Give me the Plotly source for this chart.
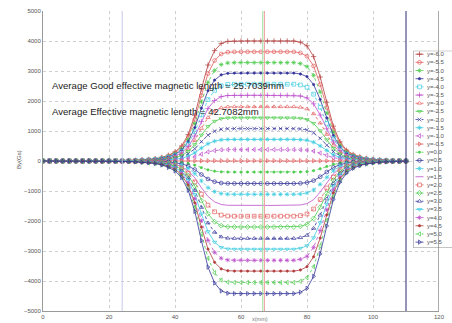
import plotly.graph_objects as go

# ---------------- data ----------------
x_mm = list(range(0, 112, 2))  # 0 .. 110 mm, 2 mm step

# normalised field profile along x (read from the top / bottom curves)
profile = [0.0, 0.0, 0.0, 0.0, 0.0, 0.0, 0.0, 0.0, 0.0, 0.0005,
           0.001, 0.002, 0.003, 0.004, 0.006, 0.009, 0.013, 0.019, 0.03, 0.048,
           0.075, 0.125, 0.22, 0.38, 0.6, 0.8, 0.92, 0.98, 0.997, 1.0,
           1.0, 1.0, 1.0, 1.0, 1.0, 1.0, 1.0, 1.0, 1.0, 0.99,
           0.96, 0.87, 0.7, 0.49, 0.29, 0.16, 0.09, 0.055, 0.035, 0.022,
           0.014, 0.009, 0.006, 0.004, 0.002, 0.001]

labels = ['y=-6.0', 'y=-5.5', 'y=-5.0', 'y=-4.5', 'y=-4.0', 'y=-3.5',
          'y=-3.0', 'y=-2.5', 'y=-2.0', 'y=-1.5', 'y=-1.0', 'y=-0.5',
          'y=0.0', 'y=0.5', 'y=1.0', 'y=1.5', 'y=2.0', 'y=2.5',
          'y=3.0', 'y=3.5', 'y=4.0', 'y=4.5', 'y=5.0', 'y=5.5']

# plateau value of By (Gs) for each curve
plateau = [4000, 3640, 3280, 2930, 2560, 2190, 1810, 1440, 1080, 720, 380, 10,
           -370, -750, -1110, -1480, -1840, -2200, -2580, -2940, -3310, -3670,
           -4050, -4420]

vlines = [24.0, 66.6, 67.1, 110.0]
vline_colors = ['#c9c9ec', '#99dd99', '#f0a0a0', '#2a2a70']

notes = ['Average Good effective magnetic length = 25.7039mm',
         'Average Effective magnetic length = 42.7082mm']

x_ticks = [0, 20, 40, 60, 80, 100, 120]
y_ticks = [-5000, -4000, -3000, -2000, -1000, 0, 1000, 2000, 3000, 4000, 5000]

# ---------------- styles ----------------
DR = '#b23c3c'
R = '#e25c5c'
G = '#4ccc4c'
B = '#34349a'
C = '#3ccce0'
M = '#bc4ccc'
colors = [DR, R, G, B, C, M, R, G, B, C, M, R, G, B, C, M, R, G, B, C, M, DR, G, B]
symbols = ['cross-thin-open', 'circle-open', 'asterisk-open', 'circle', 'square-open',
           'cross-thin-open', 'triangle-up-open', 'triangle-down-open', 'x-thin-open',
           'asterisk-open', 'triangle-left-open', 'triangle-right-open', 'circle',
           'circle-open', 'asterisk-open', None, 'square-open', 'diamond-open',
           'triangle-up-open', 'triangle-down-open', 'asterisk-open', 'circle',
           'triangle-left-open', 'triangle-right-open']
dashes = ['solid', 'solid', 'dot', 'solid', 'dot', 'solid', 'dot', 'solid', 'dot',
          'solid', 'dot', 'solid', 'dot', 'solid', 'dot', 'solid', 'dot', 'solid',
          'dot', 'solid', 'dot', 'solid', 'dot', 'solid']

W, H = 452, 323
FONT = 'Liberation Sans, Arial, sans-serif'


def msize(sym):
    return 2.3 if sym == 'circle' else 3.8


fig = go.Figure()

for i, lab in enumerate(labels):
    by = [plateau[i] * p for p in profile]
    sym = symbols[i]
    fig.add_trace(go.Scatter(
        x=x_mm, y=by, name=lab,
        mode='lines+markers' if sym else 'lines',
        line=dict(color=colors[i], width=0.8, dash=dashes[i]),
        marker=dict(symbol=sym or 'circle', size=msize(sym), color=colors[i],
                    line=dict(width=0.7, color=colors[i])),
        showlegend=False, xaxis='x', yaxis='y'))

# ---------------- hand-made legend (pixel-unit overlay axes) ----------------
LEG_X0, LEG_Y0, LEG_Y1 = 413.3, 50.7, 248.0
leg_first, leg_step = 54.2, 8.17
for i, lab in enumerate(labels):
    yy = leg_first + i * leg_step
    fig.add_trace(go.Scatter(
        x=[415.5, 423.5], y=[yy, yy], mode='lines',
        line=dict(color=colors[i], width=0.8, dash=dashes[i]),
        showlegend=False, hoverinfo='skip', xaxis='x2', yaxis='y2'))
    if symbols[i]:
        fig.add_trace(go.Scatter(
            x=[419.5], y=[yy], mode='markers',
            marker=dict(symbol=symbols[i], size=msize(symbols[i]), color=colors[i],
                        line=dict(width=0.7, color=colors[i])),
            showlegend=False, hoverinfo='skip', xaxis='x2', yaxis='y2'))
    fig.add_annotation(x=425, y=yy, xref='x2', yref='y2', text=lab, showarrow=False,
                       xanchor='left', yanchor='middle',
                       font=dict(size=6, color='#555', family=FONT))

shapes = []
for xv, col in zip(vlines, vline_colors):
    shapes.append(dict(type='line', xref='x', yref='y', x0=xv, x1=xv, y0=-5000, y1=5000,
                       line=dict(color=col, width=1)))
# right axis border
shapes.append(dict(type='line', xref='x', yref='y', x0=120, x1=120, y0=-5000, y1=5000,
                   line=dict(color='#555555', width=1)))
# legend box
shapes.append(dict(type='rect', xref='x2', yref='y2', x0=LEG_X0, x1=470, y0=LEG_Y0, y1=LEG_Y1,
                   fillcolor='white', line=dict(color='#888888', width=1), layer='below'))

for k, txt in enumerate(notes):
    fig.add_annotation(x=50 / W, y=1 - (85.7 if k == 0 else 111.5) / H, xref='paper', yref='paper',
                       text=txt, showarrow=False, xanchor='left', yanchor='middle',
                       font=dict(size=9.6, color='#222222', family=FONT))

fig.add_annotation(x=14 / W, y=1 - 160 / H, xref='paper', yref='paper', text='By(Gs)',
                   textangle=-90, showarrow=False, font=dict(size=6, color='#555', family=FONT))
fig.add_annotation(x=250 / W, y=1 - 319 / H, xref='paper', yref='paper', text='x(mm)',
                   showarrow=False, xanchor='left', yanchor='middle',
                   font=dict(size=5.5, color='#777', family=FONT))

axis_common = dict(showgrid=True, gridcolor='#cfcfcf', griddash='dot', gridwidth=1,
                   zeroline=False, ticks='', automargin=False,
                   tickfont=dict(size=6, color='#555555', family=FONT),
                   showline=True, linecolor='#9a9a9a', linewidth=1)

fig.update_layout(
    width=W, height=H,
    margin=dict(l=0, r=0, t=0, b=0),
    paper_bgcolor='white', plot_bgcolor='white',
    showlegend=False,
    xaxis=dict(domain=[43 / W, 439 / W], range=[0, 120], tickvals=x_ticks, **axis_common),
    yaxis=dict(domain=[(H - 311) / H, (H - 11) / H], range=[-5000, 5000], tickvals=y_ticks,
               **axis_common),
    xaxis2=dict(domain=[LEG_X0 / W, 1.0], range=[LEG_X0, W], visible=False, anchor='y2'),
    yaxis2=dict(domain=[(H - LEG_Y1) / H, (H - LEG_Y0) / H], range=[LEG_Y1, LEG_Y0],
                visible=False, anchor='x2'),
    shapes=shapes,
)

fig.write_html('out.html')
